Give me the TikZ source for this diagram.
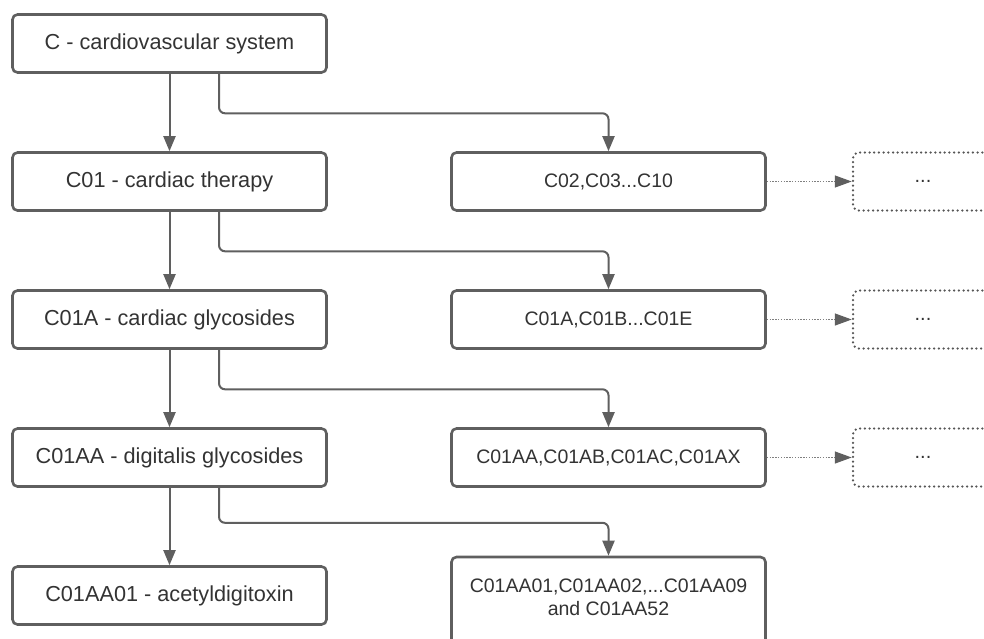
\documentclass[tikz,border=0pt]{standalone}
\usepackage{fontspec}
\setmainfont{Liberation Sans}
\usetikzlibrary{arrows.meta}
\definecolor{edge}{HTML}{5F5F5F}
\definecolor{ink}{HTML}{333333}
\tikzset{
  mainbox/.style={draw=edge, line width=2.6pt, rounded corners=5pt, fill=white,
    minimum width=314pt, minimum height=58pt, inner sep=0pt, text=ink,
    font=\fontsize{21.7}{26}\selectfont},
  subbox/.style={mainbox, font=\fontsize{19.5}{24}\selectfont},
  morebox/.style={draw=edge!90!black, line width=2.5pt, line cap=round, dash pattern=on 0pt off 4.7pt,
    rounded corners=6pt, minimum width=140pt, minimum height=58pt, inner sep=0pt,
    text=ink, font=\fontsize{20}{24}\selectfont},
  conn/.style={draw=edge, line width=2pt, rounded corners=6pt,
    -{Triangle[length=15pt,width=12pt]}},
  dotconn/.style={draw=edge!80, line width=1.4pt, dash pattern=on 1.4pt off 1.4pt,
    -{Triangle[length=17pt,width=12pt,color=edge,fill=edge]}},
}
\begin{document}
\begin{tikzpicture}[x=1pt,y=-1pt]
\useasboundingbox (0,0) rectangle (984,638);
\clip (0,0) rectangle (984,638);

% hierarchy, left column
\node[mainbox] (l1) at (169.5,43.5)  {C - cardiovascular system};
\node[mainbox] (l2) at (169.5,181.5) {C01 - cardiac therapy};
\node[mainbox] (l3) at (169.5,319.5) {C01A - cardiac glycosides};
\node[mainbox] (l4) at (169.5,457.5) {C01AA - digitalis glycosides};
\node[mainbox] (l5) at (169.5,595.5) {C01AA01 - acetyldigitoxin};

% sibling groups, middle column
\node[subbox] (r2) at (608.5,181.5) {C02,C03...C10};
\node[subbox] (r3) at (608.5,319.5) {C01A,C01B...C01E};
\node[subbox] (r4) at (608.5,457.5) {C01AA,C01AB,C01AC,C01AX};
\node[subbox, minimum height=90pt] (r5) at (608.5,602) {};
\node[text=ink, font=\fontsize{19.5}{23}\selectfont, align=center] (r5t) at (608.5,597)
  {C01AA01,C01AA02,...C01AA09\\and C01AA52};

% continuation boxes, right column
\node[morebox] (m2) at (923,181.5) {...};
\node[morebox] (m3) at (923,319.5) {...};
\node[morebox] (m4) at (923,457.5) {...};

% descent arrows
\draw[conn] (l1) -- (l2);
\draw[conn] (l2) -- (l3);
\draw[conn] (l3) -- (l4);
\draw[conn] (l4) -- (l5);

% branch arrows
\draw[conn] ([xshift=49.5pt]l1.south) -- ++(0,39.5) -| (r2.north);
\draw[conn] ([xshift=49.5pt]l2.south) -- ++(0,39.5) -| (r3.north);
\draw[conn] ([xshift=49.5pt]l3.south) -- ++(0,39.5) -| (r4.north);
\draw[conn] ([xshift=49.5pt]l4.south) -- ++(0,35) -| (r5.north);

% continuation arrows
\draw[dotconn] (r2) -- (m2);
\draw[dotconn] (r3) -- (m3);
\draw[dotconn] (r4) -- (m4);
\end{tikzpicture}
\end{document}
